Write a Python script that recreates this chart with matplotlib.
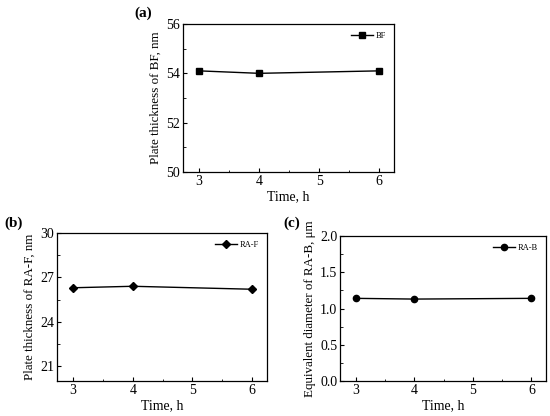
import matplotlib
matplotlib.use("Agg")
import matplotlib.pyplot as plt
from matplotlib.ticker import MultipleLocator

plt.rcParams["font.family"] = ["Liberation Serif", "DejaVu Serif"]

time_h = [3, 4, 6]
bf_thick = [54.1, 54.0, 54.1]
raf_thick = [26.3, 26.4, 26.2]
rab_diam = [1.14, 1.13, 1.14]

W, H = 550, 416
fig = plt.figure(figsize=(W / 100, H / 100), dpi=100)

def px_axes(l, t, r, b):
    return fig.add_axes([l / W, 1 - b / H, (r - l) / W, (b - t) / H])

def style(ax, ylim, ymajor, yminor, ylabel):
    ax.set_xlim(2.73, 6.25)
    ax.set_ylim(*ylim)
    ax.xaxis.set_major_locator(MultipleLocator(1))
    ax.xaxis.set_minor_locator(MultipleLocator(0.5))
    ax.yaxis.set_major_locator(MultipleLocator(ymajor))
    ax.yaxis.set_minor_locator(MultipleLocator(yminor))
    ax.tick_params(which="both", direction="in")
    ax.tick_params(which="major", length=3, width=0.8, labelsize=10, pad=2)
    ax.tick_params(which="minor", length=1.8, width=0.6)
    for s in ax.spines.values():
        s.set_linewidth(0.9)
    ax.set_xlabel("Time, h", fontsize=10, labelpad=2)
    ax.set_ylabel(ylabel, fontsize=9.4, labelpad=3)
    ax.legend(loc="upper right", frameon=False, fontsize=6,
              handlelength=2.6, borderaxespad=0.6, handletextpad=0.3)

ax1 = px_axes(183, 24, 394, 172)
ax1.plot(time_h, bf_thick, "-s", color="black", lw=1, ms=4.5, label="BF")
style(ax1, (50, 56), 2, 1, "Plate thickness of BF, nm")
fig.text(143 / W, 1 - 13 / H, "(a)", fontsize=11, fontweight="bold", va="center", ha="center")

ax2 = px_axes(57, 233, 267, 381)
ax2.plot(time_h, raf_thick, "-D", color="black", lw=1, ms=4.5, label="RA-F")
style(ax2, (20, 30), 3, 1.5, "Plate thickness of RA-F, nm")
fig.text(14 / W, 1 - 223 / H, "(b)", fontsize=11, fontweight="bold", va="center", ha="center")

ax3 = px_axes(340, 236, 546, 381)
ax3.plot(time_h, rab_diam, "-o", color="black", lw=1, ms=4.5, label="RA-B")
style(ax3, (0, 2), 0.5, 0.25, "Equivalent diameter of RA-B, μm")
fig.text(292 / W, 1 - 223 / H, "(c)", fontsize=11, fontweight="bold", va="center", ha="center")

fig.savefig("out.png", dpi=100)
